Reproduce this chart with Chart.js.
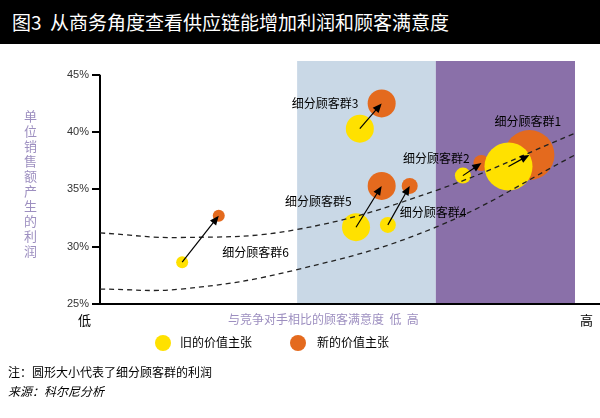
<!DOCTYPE html>
<html><head><meta charset="utf-8">
<script src="https://cdn.jsdelivr.net/npm/chart.js@4/dist/chart.umd.min.js"></script>
<style>
body{margin:0;width:600px;height:418px;position:relative;background:#fff;font-family:"Noto Sans CJK SC",sans-serif;overflow:hidden}
#c{position:absolute;left:0;top:0}
.t{position:absolute;white-space:nowrap}
</style></head><body>
<div class="t" style="left:0;top:0;width:600px;height:44px;background:#000;color:#fff;font-size:19px;line-height:44px;padding-left:12px;box-sizing:border-box">图3&nbsp; 从商务角度查看供应链能增加利润和顾客满意度</div>
<canvas id="c" width="600" height="418"></canvas>
<div class="t" style="left:24px;top:108px;width:18px;font-size:13px;line-height:15px;color:#9d8fc0;white-space:normal">单位销售额产生的利润</div>
<div class="t" style="left:78px;top:310px;font-size:13px">低</div>
<div class="t" style="left:580px;top:310px;font-size:13px">高</div>
<div class="t" style="left:228px;top:310px;font-size:12px;color:#9d8fc0">与竞争对手相比的顾客满意度&nbsp; 低&nbsp; 高</div>
<div class="t" style="left:155px;top:335px;width:16px;height:16px;border-radius:50%;background:#ffe100"></div>
<div class="t" style="left:180px;top:333px;font-size:12px">旧的价值主张</div>
<div class="t" style="left:290px;top:335px;width:16px;height:16px;border-radius:50%;background:#e46a1e"></div>
<div class="t" style="left:317px;top:333px;font-size:12px">新的价值主张</div>
<div class="t" style="left:8px;top:363px;font-size:12px">注：圆形大小代表了细分顾客群的利润</div>
<div class="t" style="left:8px;top:382px;font-size:12px;font-style:italic">来源：科尔尼分析</div>
<script>
const segments=['细分顾客群1','细分顾客群2','细分顾客群3','细分顾客群4','细分顾客群5','细分顾客群6'];
const oldX=[86,76.4,54.7,60.6,53.9,17.3];
const oldY=[37,36.2,40.3,31.9,31.7,28.65];
const oldR=[24,8,14,8,14,6];
const newX=[90.4,80.3,59.3,65.2,59.3,25];
const newY=[38,37.3,42.5,35.3,35.3,32.7];
const newR=[25,8,14,8,14,6];
const curveX=[0,17,41.5,70.7,100];
const upperY=[31.2,30.8,31.5,34.9,39.9];
const lowerY=[26.3,26.3,28.0,31.7,38.0];
const yTicks=[25,30,35,40,45];
const regions=[[41.5,70.7,'#c9d8e6'],[70.7,100,'#8a70a9']];
const labelOff=[[-14,-45],[-60,-17],[-68,-25],[12,-12],[-71,-26],[40,-10]];

const pts=(xs,ys,rs)=>xs.map((x,i)=>({x,y:ys[i],r:rs?rs[i]:0}));
const bg={id:'bg',beforeDatasetsDraw(ch){const {ctx,scales:{x,y},chartArea:a}=ch;
 regions.forEach(r=>{ctx.fillStyle=r[2];ctx.fillRect(x.getPixelForValue(r[0]),a.top,x.getPixelForValue(r[1])-x.getPixelForValue(r[0]),a.bottom-a.top);});
 ctx.strokeStyle='#000';ctx.lineWidth=2;ctx.beginPath();ctx.moveTo(a.left,y.getPixelForValue(45));ctx.lineTo(a.left,a.bottom);ctx.lineTo(600,a.bottom);ctx.stroke();}};
const arrows={id:'arrows',afterDatasetsDraw(ch){const {ctx,scales:{x,y}}=ch;ctx.strokeStyle='#000';ctx.fillStyle='#000';ctx.lineWidth=1.2;
 for(let i=0;i<oldX.length;i++){const x1=x.getPixelForValue(oldX[i]),y1=y.getPixelForValue(oldY[i]),x2=x.getPixelForValue(newX[i]),y2=y.getPixelForValue(newY[i]);
  const ang=Math.atan2(y2-y1,x2-x1);ctx.beginPath();ctx.moveTo(x1,y1);ctx.lineTo(x2-6*Math.cos(ang),y2-6*Math.sin(ang));ctx.stroke();
  ctx.beginPath();ctx.moveTo(x2,y2);ctx.lineTo(x2-10*Math.cos(ang-0.4),y2-10*Math.sin(ang-0.4));ctx.lineTo(x2-10*Math.cos(ang+0.4),y2-10*Math.sin(ang+0.4));ctx.closePath();ctx.fill();
  ctx.font='12px "Noto Sans CJK SC"';ctx.textBaseline='middle';ctx.fillText(segments[i],x1+labelOff[i][0],y1+labelOff[i][1]);}}};
new Chart(document.getElementById('c'),{type:'bubble',
data:{datasets:[
{type:'line',data:pts(curveX,upperY),borderColor:'#222',borderWidth:1.3,borderDash:[5,4],pointRadius:0,tension:0.4,fill:false},
{type:'line',data:pts(curveX,lowerY),borderColor:'#222',borderWidth:1.3,borderDash:[5,4],pointRadius:0,tension:0.4,fill:false},
{data:pts(oldX,oldY,oldR),backgroundColor:'#ffe100',borderWidth:0},
{data:pts(newX,newY,newR),backgroundColor:'#e46a1e',borderWidth:0}]},
options:{responsive:false,animation:false,clip:false,layout:{padding:{left:60,right:6,top:61,bottom:114}},
plugins:{legend:{display:false},tooltip:{enabled:false}},
scales:{x:{type:'linear',min:0,max:100,display:false},
y:{min:25,max:46.2,afterFit:s=>{s.width=40},afterBuildTicks:s=>{s.ticks=yTicks.map(v=>({value:v}))},
border:{display:false},grid:{drawOnChartArea:false,tickLength:8,color:'#000',lineWidth:2},
ticks:{color:'#333',font:{size:11,family:'Liberation Sans'},callback:v=>v+'%'}}}},
plugins:[bg,arrows]});
</script></body></html>
